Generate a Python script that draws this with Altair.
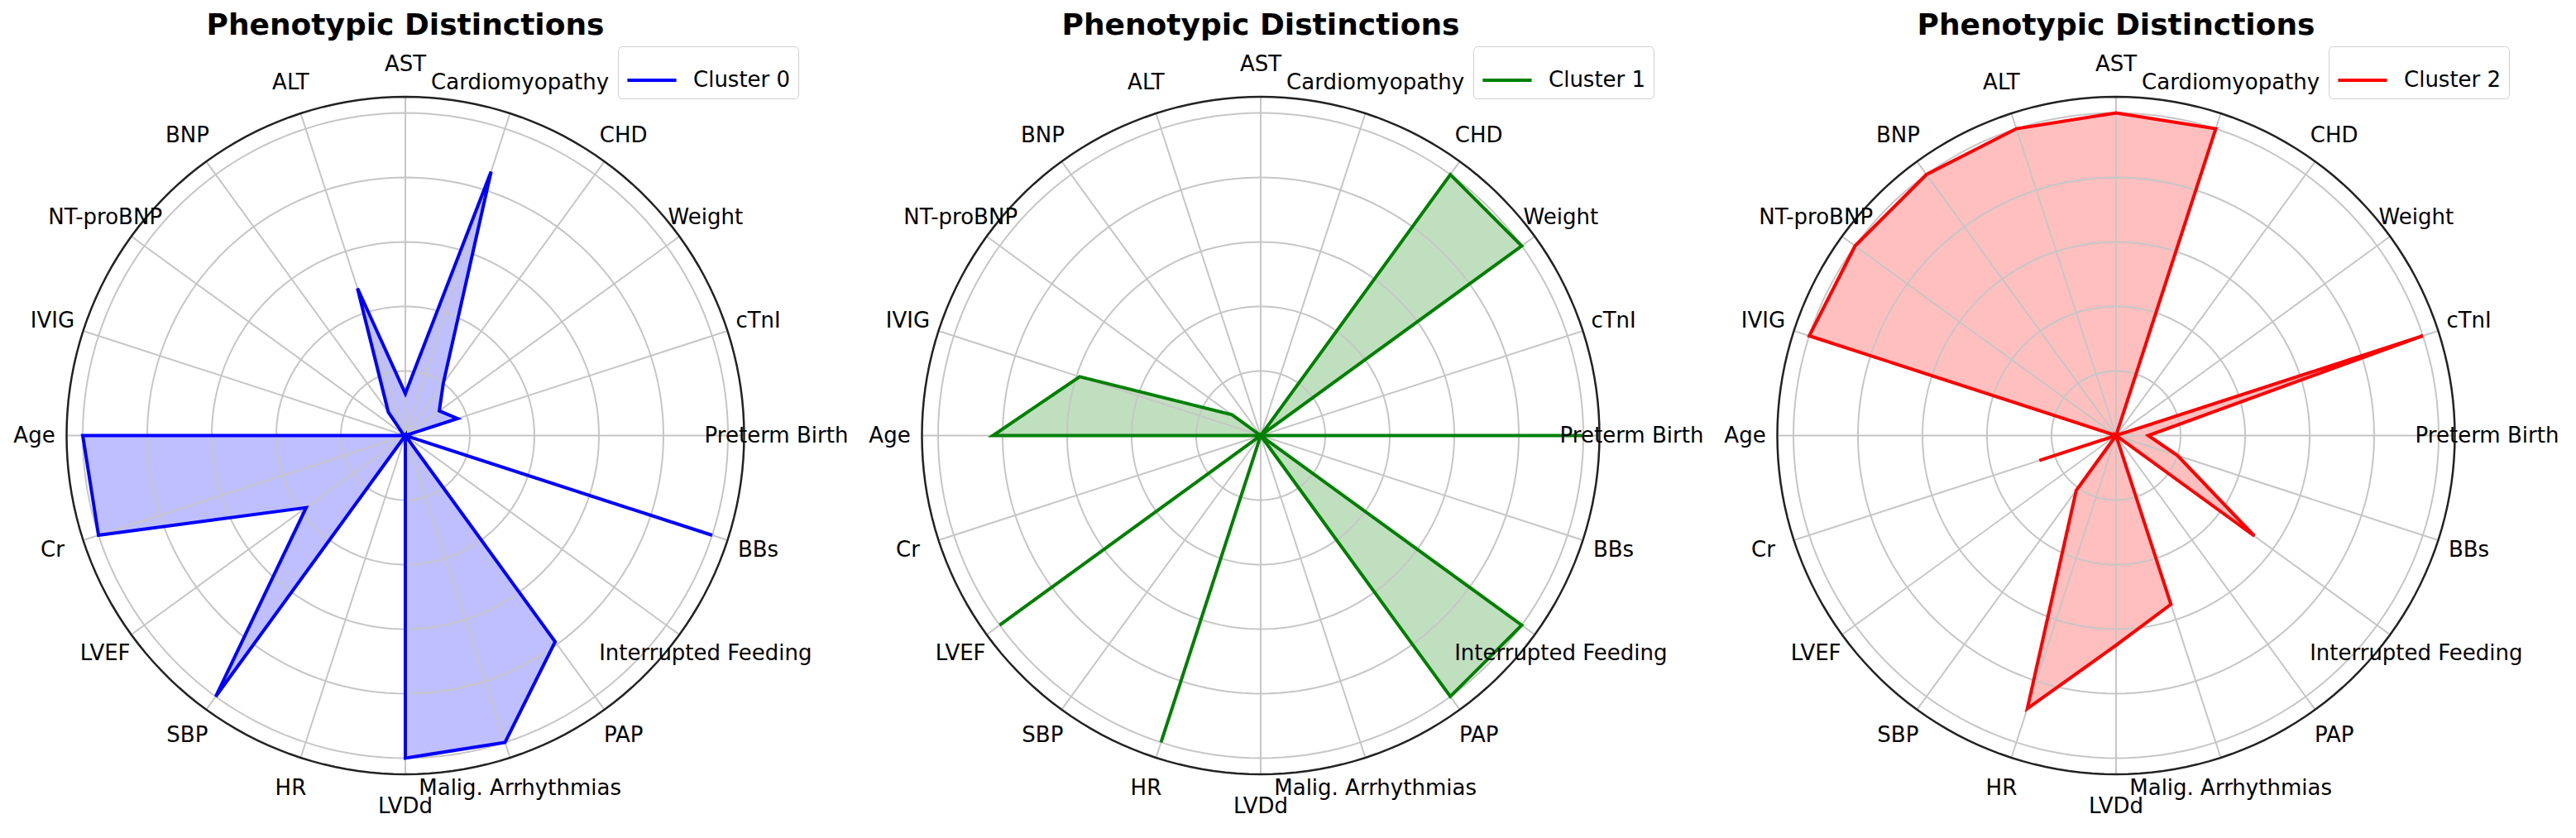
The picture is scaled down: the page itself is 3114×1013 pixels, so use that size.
import altair as alt
import pandas as pd

CATEGORIES = ["Preterm Birth", "cTnI", "Weight", "CHD", "Cardiomyopathy", "AST", "ALT",
              "BNP", "NT-proBNP", "IVIG", "Age", "Cr", "LVEF", "SBP", "HR", "LVDd",
              "Malig. Arrhythmias", "PAP", "Interrupted Feeding", "BBs"]

CLUSTER_0 = [0.0, 0.17, 0.13, 0.20, 0.86, 0.13, 0.48, 0.09, 0.01, 0.0,
             1.0, 1.0, 0.38, 1.0, 0.0, 1.0, 1.0, 0.79, 0.0, 1.0]
CLUSTER_1 = [1.0, 0.0, 1.0, 1.0, 0.0, 0.0, 0.0, 0.0, 0.11, 0.59,
             0.83, 0.0, 1.0, 0.0, 1.0, 0.0, 0.0, 1.0, 1.0, 0.0]
CLUSTER_2 = [0.10, 1.0, 0.0, 0.0, 1.0, 1.0, 1.0, 1.0, 1.0, 1.0,
             0.0, 0.25, 0.0, 0.21, 0.89, 0.65, 0.55, 0.0, 0.53, 0.20]

CLUSTER_NAMES = ["Cluster 0", "Cluster 1", "Cluster 2"]
CLUSTER_COLORS = ["blue", "green", "red"]
RING_TICKS = [0.2, 0.4, 0.6, 0.8, 1.0]
R_MAX = 1.05
LABEL_R = 1.15
TITLE = "Phenotypic Distinctions"

N = len(CATEGORIES)
PX_PER_UNIT = 390
W = 954
H = 945
XD = W / 2 / PX_PER_UNIT
YD = H / 2 / PX_PER_UNIT
FONT = "DejaVu Sans"


def circle_layer(radii, color, width, xs, ys):
    return alt.Chart(pd.DataFrame({"r": radii})).transform_calculate(
        a="sequence(0, 362, 2)").transform_flatten(["a"]).transform_calculate(
        cx="datum.r * cos(datum.a * PI / 180)",
        cy="datum.r * sin(datum.a * PI / 180)").mark_line(
        color=color, strokeWidth=width).encode(
        x=alt.X("cx:Q", scale=xs, axis=None),
        y=alt.Y("cy:Q", scale=ys, axis=None),
        detail="r:N",
        order=alt.Order("a:Q"),
    )


def panel(name, values, color):
    df = pd.DataFrame({"idx": list(range(N)), "category": CATEGORIES,
                       "value": values, "cluster": [name] * N})
    spokes = pd.DataFrame({"idx": list(range(N))})

    xs = alt.Scale(domain=[-XD, XD], nice=False, zero=False)
    ys = alt.Scale(domain=[-YD, YD], nice=False, zero=False)
    ang = f"datum.idx * 2 * PI / {N}"

    pts = alt.Chart(df).transform_calculate(ang=ang).transform_calculate(
        px="datum.value * cos(datum.ang)", py="datum.value * sin(datum.ang)")

    fill = pts.mark_line(interpolate="linear-closed", strokeOpacity=0).encode(
        x=alt.X("px:Q", scale=xs, axis=None),
        y=alt.Y("py:Q", scale=ys, axis=None),
        order=alt.Order("idx:Q"),
        fill=alt.value(color),
        fillOpacity=alt.value(0.25),
    )

    ring_layer = circle_layer(RING_TICKS, "#c6c6c6", 2, xs, ys)

    spoke_layer = alt.Chart(spokes).transform_calculate(ang=ang).transform_calculate(
        x0="0", y0="0",
        x1=f"{R_MAX} * cos(datum.ang)", y1=f"{R_MAX} * sin(datum.ang)").mark_rule(
        color="#c6c6c6", strokeWidth=2).encode(
        x=alt.X("x0:Q", scale=xs, axis=None),
        y=alt.Y("y0:Q", scale=ys, axis=None),
        x2="x1:Q", y2="y1:Q",
    )

    outer_layer = circle_layer([R_MAX], "#222222", 2.5, xs, ys)

    outline = pts.mark_line(interpolate="linear-closed", strokeWidth=4).encode(
        x=alt.X("px:Q", scale=xs, axis=None),
        y=alt.Y("py:Q", scale=ys, axis=None),
        order=alt.Order("idx:Q"),
        color=alt.Color("cluster:N",
                        scale=alt.Scale(domain=[name], range=[color]),
                        legend=alt.Legend(title=None, orient="top-right", offset=2,
                                          symbolType="stroke", symbolSize=3500,
                                          symbolStrokeWidth=4, labelFontSize=26,
                                          labelFont=FONT, labelColor="black",
                                          padding=9, strokeColor="#d0d0d0",
                                          fillColor="white", cornerRadius=5,
                                          labelOffset=18)),
    )

    labels = alt.Chart(df).transform_calculate(ang=ang).transform_calculate(
        lx=f"{LABEL_R} * cos(datum.ang)", ly=f"{LABEL_R} * sin(datum.ang)").mark_text(
        fontSize=26, font=FONT, align="center", baseline="middle", color="black").encode(
        x=alt.X("lx:Q", scale=xs, axis=None),
        y=alt.Y("ly:Q", scale=ys, axis=None),
        text="category:N",
    )

    return alt.layer(fill, ring_layer, spoke_layer, outer_layer, outline, labels).properties(
        width=W, height=H,
        title=alt.TitleParams(TITLE, fontSize=36, fontWeight="bold", font=FONT,
                              anchor="middle", color="black", offset=4),
    )


panels = [panel(n, v, c) for n, v, c in zip(CLUSTER_NAMES, [CLUSTER_0, CLUSTER_1, CLUSTER_2], CLUSTER_COLORS)]

chart = alt.hconcat(*panels, spacing=80, bounds="flush").resolve_scale(
    color="independent").configure(font=FONT).configure_view(stroke=None)

chart.save("out.html", embed_options={"renderer": "svg", "actions": False})
